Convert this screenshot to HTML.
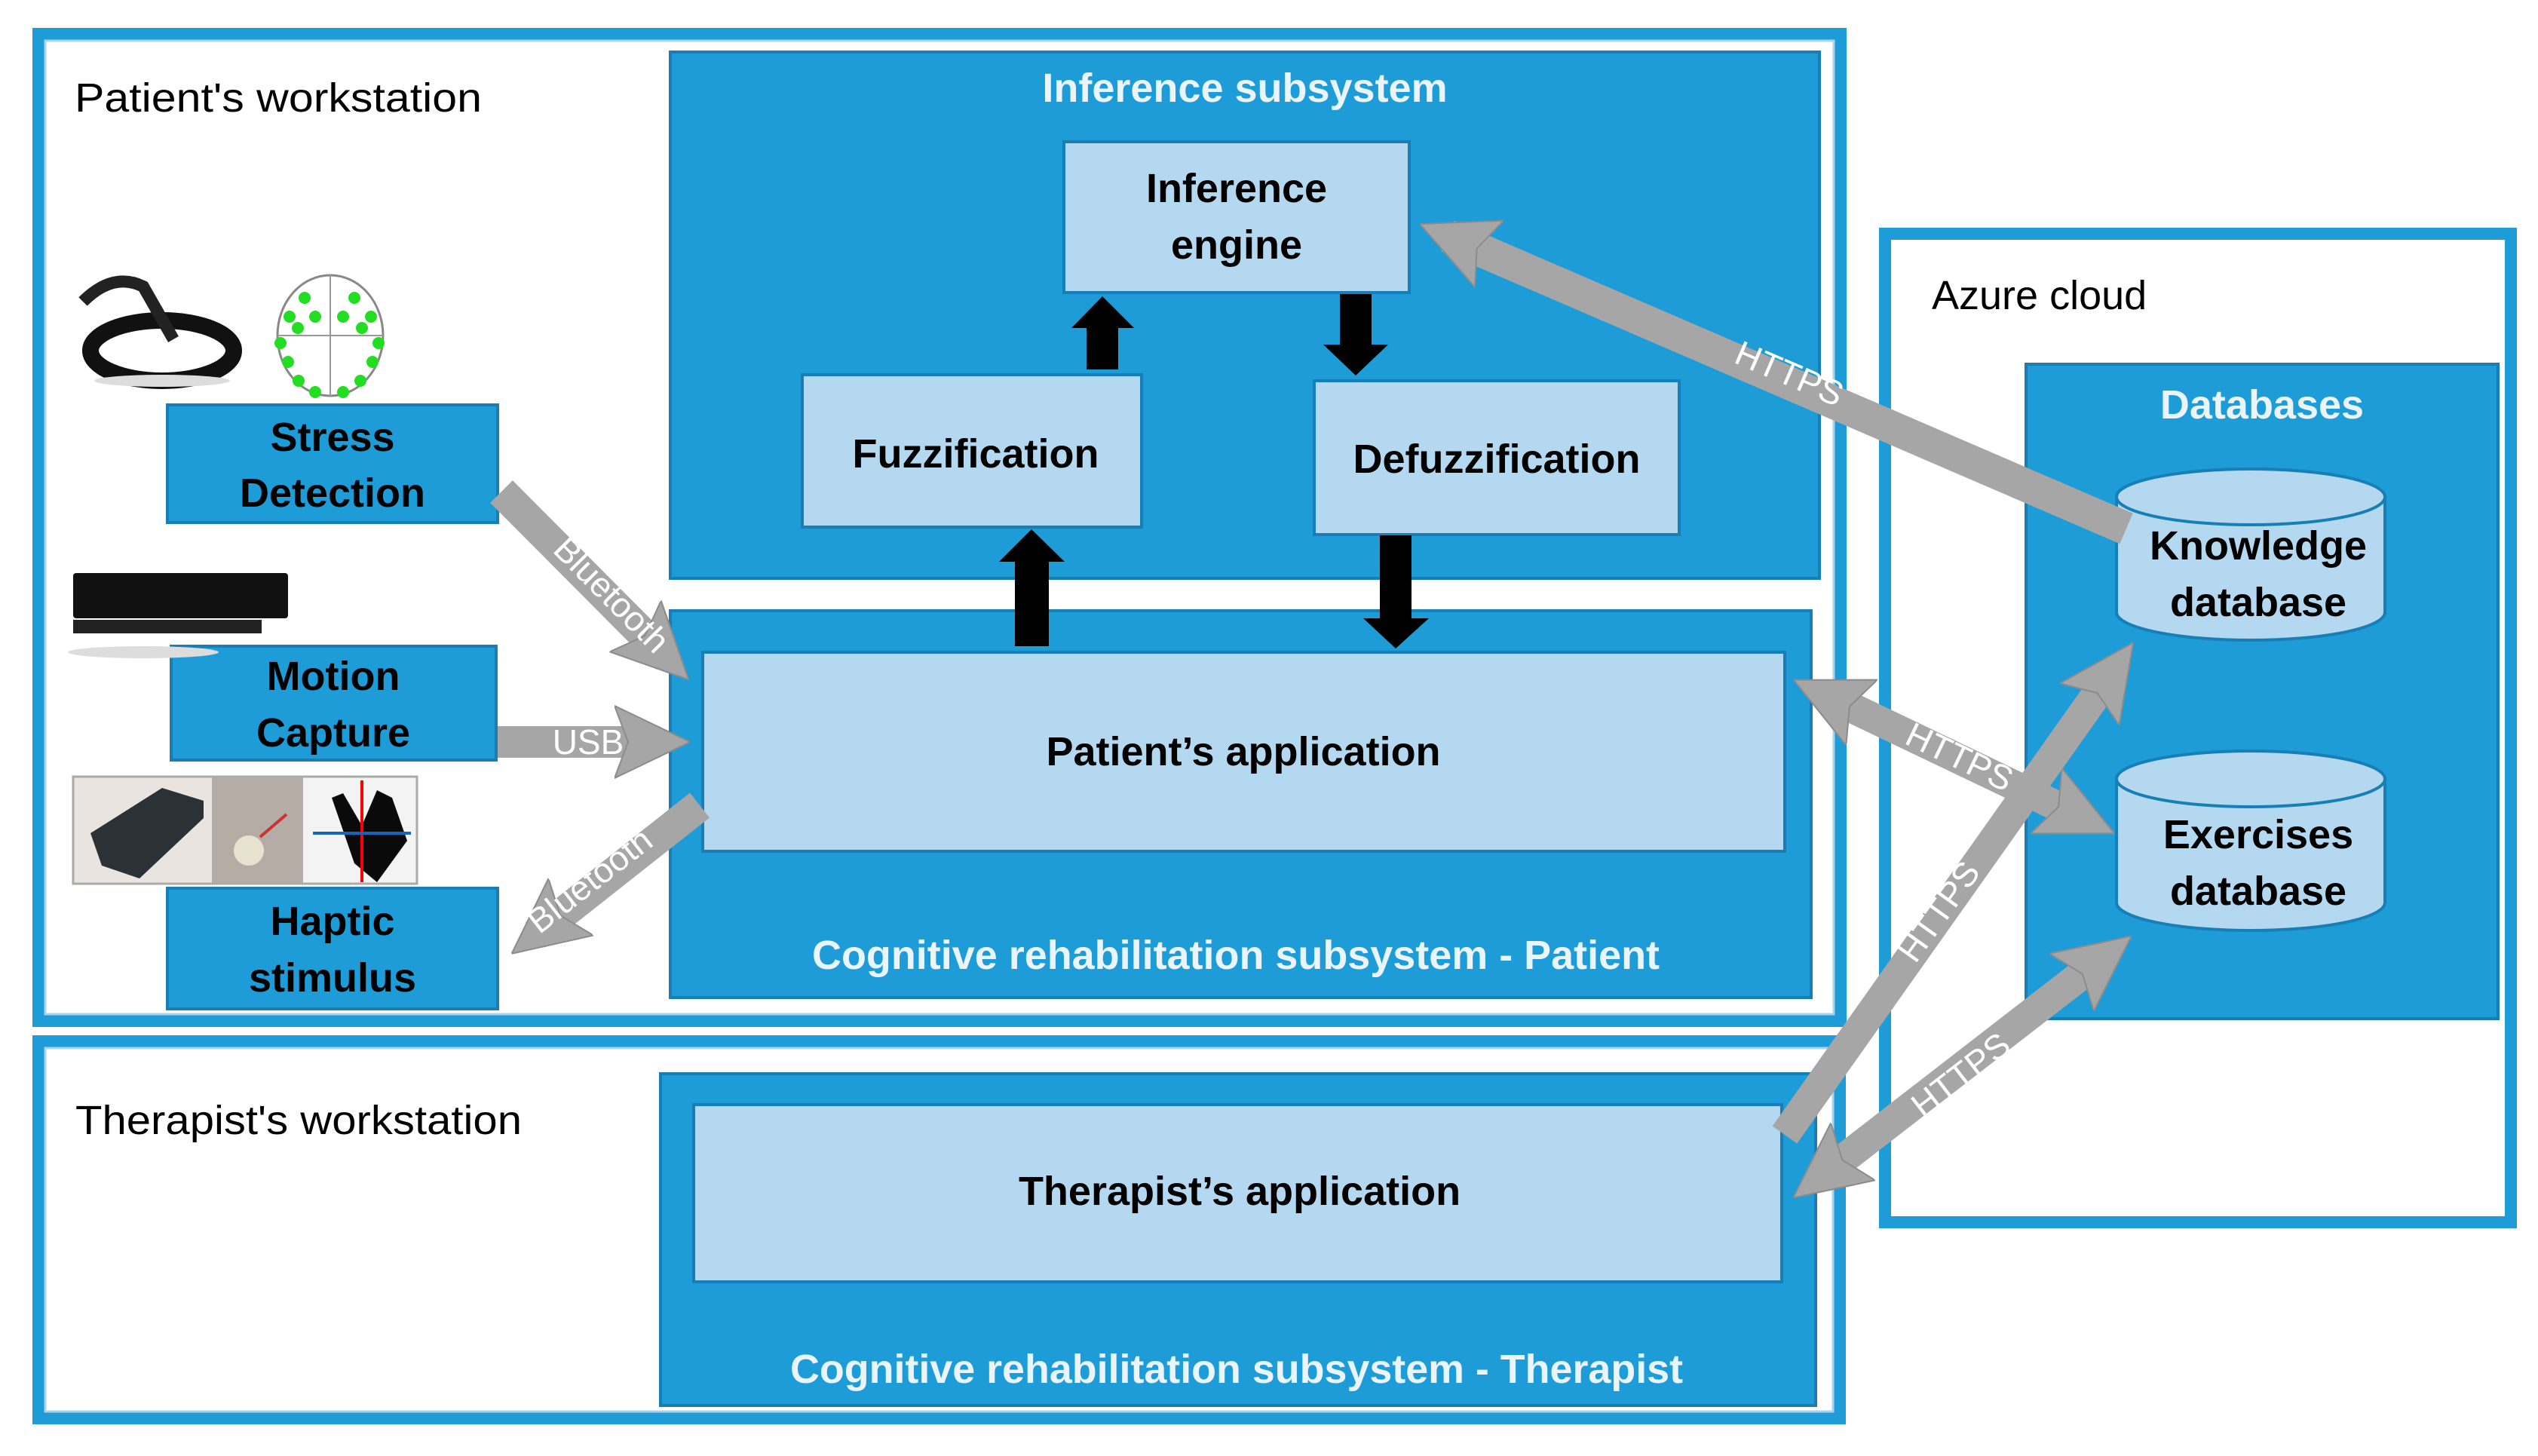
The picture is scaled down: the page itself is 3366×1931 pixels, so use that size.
<!DOCTYPE html>
<html><head><meta charset="utf-8"><style>
html,body{margin:0;padding:0;background:#fff;}
svg{display:block}
text{font-family:"Liberation Sans Narrow","Liberation Sans",sans-serif;}
.b{font-weight:bold;}
</style></head><body>
<svg width="3366" height="1931" viewBox="0 0 3366 1931" xmlns="http://www.w3.org/2000/svg">
<defs>
<marker id="g" markerUnits="userSpaceOnUse" markerWidth="100" markerHeight="100" refX="60" refY="50" orient="auto-start-reverse" viewBox="0 0 100 100"><path d="M0,2 L100,50 L0,98 L18,50 Z" fill="#a6a6a6" stroke="#8c8c8c" stroke-width="2"/></marker>
</defs>
<rect x="51" y="45" width="2390" height="1309" fill="#fff" stroke="#1e9cd7" stroke-width="16"/>
<rect x="60" y="54" width="2372" height="1291" fill="none" stroke="#a9d4ef" stroke-width="3"/>
<rect x="51" y="1381" width="2389" height="500" fill="#fff" stroke="#1e9cd7" stroke-width="16"/>
<rect x="60" y="1390" width="2371" height="482" fill="none" stroke="#a9d4ef" stroke-width="3"/>
<rect x="2500" y="310" width="830" height="1311" fill="#fff" stroke="#1e9cd7" stroke-width="16"/>
<rect x="2687" y="483" width="626" height="868" fill="#1e9cd7" stroke="#177fb5" stroke-width="4"/>
<text x="2562" y="410" font-size="54">Azure cloud</text>
<text x="3000" y="555" font-size="54" class="b" fill="#fff" text-anchor="middle" fill-opacity="0.9">Databases</text>
<rect x="889" y="69" width="1524" height="698" fill="#1e9cd7" stroke="#177fb5" stroke-width="4"/>
<text x="1651" y="135" font-size="54" class="b" fill="#fff" fill-opacity="0.9" text-anchor="middle">Inference subsystem</text>
<rect x="1411" y="188" width="458" height="200" fill="#b4d8f0" stroke="#177fb5" stroke-width="4"/>
<text x="1640" y="268" font-size="54" class="b" text-anchor="middle">Inference</text>
<text x="1640" y="343" font-size="54" class="b" text-anchor="middle">engine</text>
<rect x="1064" y="497" width="450" height="202" fill="#b4d8f0" stroke="#177fb5" stroke-width="4"/>
<text x="1294" y="620" font-size="54" class="b" text-anchor="middle">Fuzzification</text>
<rect x="1743" y="505" width="484" height="204" fill="#b4d8f0" stroke="#177fb5" stroke-width="4"/>
<text x="1985" y="627" font-size="54" class="b" text-anchor="middle">Defuzzification</text>
<rect x="889" y="810" width="1513" height="513" fill="#1e9cd7" stroke="#177fb5" stroke-width="4"/>
<rect x="932" y="865" width="1435" height="264" fill="#b4d8f0" stroke="#177fb5" stroke-width="4"/>
<text x="1649" y="1015" font-size="54" class="b" text-anchor="middle">Patient’s application</text>
<text x="1639" y="1285" font-size="54" class="b" fill="#fff" fill-opacity="0.9" text-anchor="middle" textLength="1124" lengthAdjust="spacingAndGlyphs">Cognitive rehabilitation subsystem - Patient</text>
<rect x="876" y="1424" width="1532" height="440" fill="#1e9cd7" stroke="#177fb5" stroke-width="4"/>
<rect x="920" y="1465" width="1443" height="235" fill="#b4d8f0" stroke="#177fb5" stroke-width="4"/>
<text x="1644" y="1598" font-size="54" class="b" text-anchor="middle">Therapist’s application</text>
<text x="1640" y="1834" font-size="54" class="b" fill="#fff" fill-opacity="0.9" text-anchor="middle" textLength="1184" lengthAdjust="spacingAndGlyphs">Cognitive rehabilitation subsystem - Therapist</text>
<text x="99" y="148" font-size="54" textLength="540" lengthAdjust="spacingAndGlyphs">Patient's workstation</text>
<text x="100" y="1504" font-size="54" textLength="592" lengthAdjust="spacingAndGlyphs">Therapist's workstation</text>
<rect x="222" y="537" width="438" height="156" fill="#1e9cd7" stroke="#177fb5" stroke-width="4"/>
<text x="441" y="598" font-size="54" class="b" text-anchor="middle">Stress</text>
<text x="441" y="672" font-size="54" class="b" text-anchor="middle">Detection</text>
<rect x="227" y="857" width="431" height="151" fill="#1e9cd7" stroke="#177fb5" stroke-width="4"/>
<text x="442" y="915" font-size="54" class="b" text-anchor="middle">Motion</text>
<text x="442" y="990" font-size="54" class="b" text-anchor="middle">Capture</text>
<rect x="222" y="1178" width="438" height="160" fill="#1e9cd7" stroke="#177fb5" stroke-width="4"/>
<text x="441" y="1240" font-size="54" class="b" text-anchor="middle">Haptic</text>
<text x="441" y="1315" font-size="54" class="b" text-anchor="middle">stimulus</text>
<ellipse cx="215" cy="465" rx="95" ry="40" fill="none" stroke="#111" stroke-width="22"/>
<path d="M110,400 Q150,360 190,380 L230,450" fill="none" stroke="#222" stroke-width="16"/>
<ellipse cx="215" cy="505" rx="90" ry="8" fill="#ddd"/>
<ellipse cx="438" cy="445" rx="70" ry="80" fill="#fff" stroke="#888" stroke-width="3"/>
<line x1="438" y1="365" x2="438" y2="525" stroke="#999" stroke-width="2"/>
<line x1="368" y1="445" x2="508" y2="445" stroke="#999" stroke-width="2"/>
<g fill="#22dd22">
<circle cx="404" cy="395" r="8"/><circle cx="470" cy="395" r="8"/><circle cx="418" cy="420" r="8"/><circle cx="455" cy="420" r="8"/>
<circle cx="384" cy="420" r="8"/><circle cx="492" cy="420" r="8"/><circle cx="395" cy="435" r="8"/><circle cx="480" cy="435" r="8"/>
<circle cx="372" cy="455" r="8"/><circle cx="502" cy="455" r="8"/><circle cx="382" cy="480" r="8"/><circle cx="494" cy="480" r="8"/>
<circle cx="396" cy="505" r="8"/><circle cx="478" cy="505" r="8"/><circle cx="418" cy="520" r="8"/><circle cx="455" cy="520" r="8"/>
</g>
<rect x="97" y="760" width="285" height="60" fill="#111" rx="4"/>
<rect x="97" y="822" width="250" height="18" fill="#222"/>
<ellipse cx="190" cy="865" rx="100" ry="8" fill="#ddd"/>
<rect x="97" y="1030" width="184" height="142" fill="#e9e4df"/>
<rect x="281" y="1030" width="121" height="142" fill="#b4aca5"/>
<rect x="402" y="1030" width="151" height="142" fill="#f3f3f3"/>
<rect x="97" y="1030" width="456" height="142" fill="none" stroke="#aaa" stroke-width="3"/>
<polygon points="120,1105 215,1045 270,1062 270,1085 185,1165 135,1148" fill="#2a3238"/>
<circle cx="330" cy="1128" r="20" fill="#e8e2d0"/>
<line x1="345" y1="1110" x2="380" y2="1080" stroke="#c33" stroke-width="4"/>
<path d="M440,1058 L470,1145 L500,1170 L540,1115 L520,1058 L500,1048 L480,1095 L455,1052 Z" fill="#0a0a0a"/>
<line x1="480" y1="1035" x2="480" y2="1170" stroke="#f00" stroke-width="4"/>
<line x1="415" y1="1105" x2="545" y2="1105" stroke="#1565c0" stroke-width="4"/>
<g stroke="#177fb5" stroke-width="4" fill="#b4d8f0">
<path d="M2807,659 L2807,812 A178,37 0 0 0 3163,812 L3163,659"/>
<ellipse cx="2985" cy="659" rx="178" ry="37"/>
<path d="M2807,1033 L2807,1197 A178,37 0 0 0 3163,1197 L3163,1033"/>
<ellipse cx="2985" cy="1033" rx="178" ry="37"/>
</g>
<text x="2995" y="742" font-size="54" class="b" text-anchor="middle">Knowledge</text>
<text x="2995" y="817" font-size="54" class="b" text-anchor="middle">database</text>
<text x="2995" y="1125" font-size="54" class="b" text-anchor="middle">Exercises</text>
<text x="2995" y="1200" font-size="54" class="b" text-anchor="middle">database</text>
<g fill="#000">
<polygon points="1441,490 1483,490 1483,435 1504,435 1462,393 1421,435 1441,435"/>
<polygon points="1777,390 1819,390 1819,457 1841,457 1798,498 1755,457 1777,457"/>
<polygon points="1346,857 1391,857 1391,745 1412,745 1368,702 1325,745 1346,745"/>
<polygon points="1830,710 1872,710 1872,820 1895,820 1851,860 1808,820 1830,820"/>
</g>
<g stroke="#a6a6a6" fill="none">
<line x1="665" y1="652" x2="885" y2="873" stroke-width="42" marker-end="url(#g)"/>
<line x1="660" y1="984" x2="875" y2="984" stroke-width="42" marker-end="url(#g)"/>
<line x1="928" y1="1068" x2="710" y2="1240" stroke-width="42" marker-end="url(#g)"/>
<line x1="2820" y1="701" x2="1920" y2="313" stroke-width="44" marker-end="url(#g)"/>
<line x1="2415" y1="919" x2="2768" y2="1088" stroke-width="40" marker-start="url(#g)" marker-end="url(#g)"/>
<line x1="2367" y1="1505" x2="2806" y2="885" stroke-width="40" marker-end="url(#g)"/>
<line x1="2410" y1="1564" x2="2795" y2="1266" stroke-width="40" marker-start="url(#g)" marker-end="url(#g)"/>
</g>
<g fill="#fff" font-size="46" text-anchor="middle">
<text transform="translate(800,800) rotate(45.2)">Bluetooth</text>
<text transform="translate(792,1180) rotate(-38)">Bluetooth</text>
<text x="780" y="1000">USB</text>
<text transform="translate(2367,510) rotate(23.3)">HTTPS</text>
<text transform="translate(2592,1018) rotate(25.6)">HTTPS</text>
<text transform="translate(2584,1218) rotate(-54.4)">HTTPS</text>
<text transform="translate(2610,1438) rotate(-37.7)">HTTPS</text>
</g>
</svg>
</body></html>
